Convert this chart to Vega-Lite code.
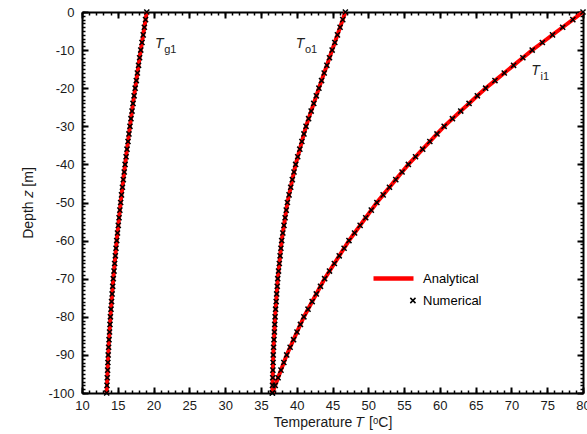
{
  "$schema": "https://vega.github.io/schema/vega-lite/v6.json",
  "autosize": "none",
  "width": 501,
  "height": 381,
  "padding": {"left": 82, "top": 12, "right": 4, "bottom": 41},
  "background": "white",
  "config": {"view": {"stroke": null}, "axis": {"grid": false, "labelFont": "Liberation Sans", "titleFont": "Liberation Sans", "labelColor": "#1a1a1a", "titleColor": "#1a1a1a", "tickColor": "#000", "domainColor": "#000", "labelFlush": false, "labelOverlap": false}},
  "datasets": {
    "curves": [
      {"z": 0, "Tg1": 19.05, "To1": 46.80, "Ti1": 80.00},
      {"z": -2, "Tg1": 18.88, "To1": 46.43, "Ti1": 78.58},
      {"z": -4, "Tg1": 18.71, "To1": 46.06, "Ti1": 77.16},
      {"z": -6, "Tg1": 18.55, "To1": 45.69, "Ti1": 75.74},
      {"z": -8, "Tg1": 18.38, "To1": 45.32, "Ti1": 74.32},
      {"z": -10, "Tg1": 18.21, "To1": 44.95, "Ti1": 72.90},
      {"z": -12, "Tg1": 18.05, "To1": 44.58, "Ti1": 71.60},
      {"z": -14, "Tg1": 17.90, "To1": 44.21, "Ti1": 70.30},
      {"z": -16, "Tg1": 17.74, "To1": 43.84, "Ti1": 69.00},
      {"z": -18, "Tg1": 17.59, "To1": 43.47, "Ti1": 67.70},
      {"z": -20, "Tg1": 17.43, "To1": 43.10, "Ti1": 66.40},
      {"z": -22, "Tg1": 17.28, "To1": 42.74, "Ti1": 65.24},
      {"z": -24, "Tg1": 17.13, "To1": 42.38, "Ti1": 64.08},
      {"z": -26, "Tg1": 16.99, "To1": 42.02, "Ti1": 62.92},
      {"z": -28, "Tg1": 16.84, "To1": 41.66, "Ti1": 61.76},
      {"z": -30, "Tg1": 16.70, "To1": 41.30, "Ti1": 60.60},
      {"z": -32, "Tg1": 16.56, "To1": 41.01, "Ti1": 59.60},
      {"z": -34, "Tg1": 16.43, "To1": 40.72, "Ti1": 58.60},
      {"z": -36, "Tg1": 16.29, "To1": 40.43, "Ti1": 57.60},
      {"z": -38, "Tg1": 16.16, "To1": 40.14, "Ti1": 56.60},
      {"z": -40, "Tg1": 16.02, "To1": 39.85, "Ti1": 55.60},
      {"z": -42, "Tg1": 15.90, "To1": 39.62, "Ti1": 54.72},
      {"z": -44, "Tg1": 15.77, "To1": 39.39, "Ti1": 53.84},
      {"z": -46, "Tg1": 15.65, "To1": 39.16, "Ti1": 52.96},
      {"z": -48, "Tg1": 15.52, "To1": 38.93, "Ti1": 52.08},
      {"z": -50, "Tg1": 15.40, "To1": 38.70, "Ti1": 51.20},
      {"z": -52, "Tg1": 15.29, "To1": 38.54, "Ti1": 50.42},
      {"z": -54, "Tg1": 15.18, "To1": 38.38, "Ti1": 49.64},
      {"z": -56, "Tg1": 15.07, "To1": 38.22, "Ti1": 48.86},
      {"z": -58, "Tg1": 14.96, "To1": 38.06, "Ti1": 48.08},
      {"z": -60, "Tg1": 14.85, "To1": 37.90, "Ti1": 47.30},
      {"z": -62, "Tg1": 14.75, "To1": 37.79, "Ti1": 46.62},
      {"z": -64, "Tg1": 14.66, "To1": 37.68, "Ti1": 45.94},
      {"z": -66, "Tg1": 14.56, "To1": 37.57, "Ti1": 45.26},
      {"z": -68, "Tg1": 14.47, "To1": 37.46, "Ti1": 44.58},
      {"z": -70, "Tg1": 14.37, "To1": 37.35, "Ti1": 43.90},
      {"z": -72, "Tg1": 14.29, "To1": 37.28, "Ti1": 43.32},
      {"z": -74, "Tg1": 14.21, "To1": 37.20, "Ti1": 42.74},
      {"z": -76, "Tg1": 14.13, "To1": 37.13, "Ti1": 42.16},
      {"z": -78, "Tg1": 14.05, "To1": 37.05, "Ti1": 41.58},
      {"z": -80, "Tg1": 13.97, "To1": 36.98, "Ti1": 41.00},
      {"z": -82, "Tg1": 13.91, "To1": 36.93, "Ti1": 40.52},
      {"z": -84, "Tg1": 13.85, "To1": 36.88, "Ti1": 40.04},
      {"z": -86, "Tg1": 13.78, "To1": 36.82, "Ti1": 39.56},
      {"z": -88, "Tg1": 13.72, "To1": 36.77, "Ti1": 39.08},
      {"z": -90, "Tg1": 13.66, "To1": 36.72, "Ti1": 38.60},
      {"z": -92, "Tg1": 13.62, "To1": 36.70, "Ti1": 38.20},
      {"z": -94, "Tg1": 13.58, "To1": 36.67, "Ti1": 37.80},
      {"z": -96, "Tg1": 13.53, "To1": 36.65, "Ti1": 37.40},
      {"z": -98, "Tg1": 13.49, "To1": 36.62, "Ti1": 37.00},
      {"z": -100, "Tg1": 13.45, "To1": 36.60, "Ti1": 36.60}
    ],
    "labels": [
      {"T": 20.79, "z": -8.4, "main": "T", "sub": "g1"},
      {"T": 40.46, "z": -8.5, "main": "T", "sub": "o1"},
      {"T": 73.36, "z": -15.5, "main": "T", "sub": "i1"}
    ]
  },
  "data": {"name": "curves"},
  "resolve": {"axis": {"x": "independent", "y": "independent"}},
  "layer": [
    {
      "transform": [{"fold": ["Tg1", "To1", "Ti1"], "as": ["key", "T"]}],
      "mark": {"type": "line", "strokeWidth": 4, "clip": false},
      "encoding": {
        "x": {"field": "T", "type": "quantitative", "scale": {"domain": [10, 80], "nice": false, "zero": false},
          "axis": {"orient": "bottom", "values": [10,15,20,25,30,35,40,45,50,55,60,65,70,75,80], "ticks": false, "domain": true, "domainWidth": 2, "labelFontSize": 13, "labelPadding": 6, "title": "Temperature 𝑇 [ᵒC]", "titleFontSize": 14, "titleFontWeight": "normal", "titlePadding": 3}},
        "y": {"field": "z", "type": "quantitative", "scale": {"domain": [-100, 0], "nice": false, "zero": false},
          "axis": {"orient": "left", "values": [0,-10,-20,-30,-40,-50,-60,-70,-80,-90,-100], "labelExpr": "replace(datum.label, '−', '-')", "ticks": false, "domain": true, "domainWidth": 2, "labelFontSize": 13, "labelPadding": 8, "title": "Depth 𝑧 [m]", "titleFontSize": 14, "titleFontWeight": "normal", "titlePadding": 12}},
        "detail": {"field": "key"},
        "order": {"field": "z", "sort": "descending"},
        "color": {"datum": "Analytical", "type": "nominal", "scale": {"domain": ["Analytical", "Numerical"], "range": ["#ff0000", "#000000"]},
          "legend": {"orient": "none", "legendX": 305, "legendY": 260, "title": null, "padding": 0, "symbolSize": 16, "rowPadding": 6, "labelOffset": 23, "labelFont": "Liberation Sans", "labelFontSize": 13, "labelColor": "#000",
            "encode": {"symbols": {"update": {
              "shape": {"signal": "datum.value === 'Analytical' ? 'M-10,0L10,0' : 'M8.4,-1.3L11,1.3M8.4,1.3L11,-1.3'"},
              "stroke": {"signal": "datum.value === 'Analytical' ? '#ff0000' : '#000000'"},
              "strokeWidth": {"signal": "datum.value === 'Analytical' ? 4.5 : 1.5"},
              "fill": {"value": "transparent"},
              "size": {"value": 16},
              "opacity": {"value": 1}
            }}}}}
      }
    },
    {
      "transform": [{"fold": ["Tg1", "To1", "Ti1"], "as": ["key", "T"]}],
      "mark": {"type": "point", "shape": "M-1,-1L1,1M-1,1L1,-1", "filled": false, "size": 26, "strokeWidth": 1.5, "opacity": 1, "clip": false},
      "encoding": {
        "x": {"field": "T", "type": "quantitative", "axis": {"orient": "bottom", "values": [10,15,20,25,30,35,40,45,50,55,60,65,70,75,80], "labels": false, "domain": false, "ticks": true, "tickSize": -6, "tickWidth": 2, "title": null}},
        "y": {"field": "z", "type": "quantitative", "axis": {"orient": "left", "values": [0,-10,-20,-30,-40,-50,-60,-70,-80,-90,-100], "labels": false, "domain": false, "ticks": true, "tickSize": -6, "tickWidth": 2, "title": null}},
        "color": {"datum": "Numerical", "type": "nominal"}
      }
    },
    {
      "transform": [{"fold": ["Tg1", "To1", "Ti1"], "as": ["key", "T"]}],
      "mark": {"type": "point", "opacity": 0},
      "encoding": {
        "x": {"field": "T", "type": "quantitative", "axis": {"orient": "bottom", "tickCount": 70, "labels": false, "domain": false, "ticks": true, "tickSize": -3, "tickWidth": 1.5, "title": null}},
        "y": {"field": "z", "type": "quantitative", "axis": {"orient": "left", "tickCount": 100, "labels": false, "domain": false, "ticks": true, "tickSize": -3, "tickWidth": 1.5, "title": null}}
      }
    },
    {
      "transform": [{"fold": ["Tg1", "To1", "Ti1"], "as": ["key", "T"]}],
      "mark": {"type": "point", "opacity": 0},
      "encoding": {
        "x": {"field": "T", "type": "quantitative", "axis": {"orient": "top", "values": [10,15,20,25,30,35,40,45,50,55,60,65,70,75,80], "labels": false, "domain": true, "domainWidth": 2, "ticks": true, "tickSize": -6, "tickWidth": 2, "title": null}},
        "y": {"field": "z", "type": "quantitative", "axis": {"orient": "right", "values": [0,-10,-20,-30,-40,-50,-60,-70,-80,-90,-100], "labels": false, "domain": true, "domainWidth": 2, "ticks": true, "tickSize": -6, "tickWidth": 2, "title": null}}
      }
    },
    {
      "transform": [{"fold": ["Tg1", "To1", "Ti1"], "as": ["key", "T"]}],
      "mark": {"type": "point", "opacity": 0},
      "encoding": {
        "x": {"field": "T", "type": "quantitative", "axis": {"orient": "top", "tickCount": 70, "labels": false, "domain": false, "ticks": true, "tickSize": -3, "tickWidth": 1.5, "title": null}},
        "y": {"field": "z", "type": "quantitative", "axis": {"orient": "right", "tickCount": 100, "labels": false, "domain": false, "ticks": true, "tickSize": -3, "tickWidth": 1.5, "title": null}}
      }
    },
    {
      "data": {"name": "labels"},
      "mark": {"type": "text", "font": "Liberation Sans", "fontSize": 14, "fontStyle": "italic", "align": "center", "baseline": "middle", "color": "#222"},
      "encoding": {
        "x": {"field": "T", "type": "quantitative", "axis": null},
        "y": {"field": "z", "type": "quantitative", "axis": null},
        "text": {"field": "main"}
      }
    },
    {
      "data": {"name": "labels"},
      "mark": {"type": "text", "font": "Liberation Sans", "fontSize": 11, "align": "left", "baseline": "alphabetic", "dx": 5, "dy": 9, "color": "#222"},
      "encoding": {
        "x": {"field": "T", "type": "quantitative", "axis": null},
        "y": {"field": "z", "type": "quantitative", "axis": null},
        "text": {"field": "sub"}
      }
    }
  ]
}
